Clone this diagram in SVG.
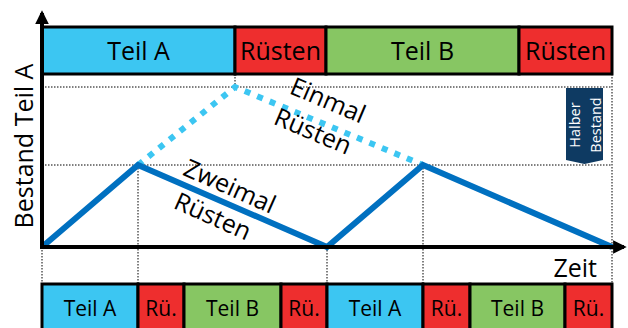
<svg xmlns="http://www.w3.org/2000/svg" width="628" height="328" viewBox="0 0 628 328">
  <style>
    .lbl { font-family: "Open Sans", "Liberation Sans", sans-serif; fill: #000; }
    .bar { font-size: 25px; text-anchor: middle; }
    .sub { font-size: 21px; text-anchor: middle; }
    .cy { fill: #3CC6F2; }
    .rd { fill: #EE2E2E; }
    .gn { fill: #87C663; }
    .box { stroke: #000; stroke-width: 3; }
    .dot { fill: none; stroke: #000; stroke-width: 1; stroke-dasharray: 1.5 1.5; }
    .axis { fill: none; stroke: #000; stroke-width: 4; }
  </style>
  <defs>
    <marker id="ah" viewBox="0 0 10 10" refX="8" refY="5" markerWidth="3.4" markerHeight="3.4" orient="auto" markerUnits="strokeWidth">
      <path d="M0,0 L10,5 L0,10 Z" fill="#000"/>
    </marker>
  </defs>
  <rect width="628" height="328" fill="#fff"/>

  <!-- dotted guide lines -->
  <g id="guides">
    <line class="dot" x1="42" y1="87" x2="612" y2="87"/>
    <line class="dot" x1="42" y1="165" x2="612" y2="165"/>
    <line class="dot" x1="612" y1="74" x2="612" y2="284"/>
    <line class="dot" x1="235" y1="74" x2="235" y2="87"/>
    <line class="dot" x1="42" y1="247" x2="42" y2="284"/>
    <line class="dot" x1="138" y1="165" x2="138" y2="284"/>
    <line class="dot" x1="327" y1="247" x2="327" y2="284"/>
    <line class="dot" x1="423" y1="165" x2="423" y2="284"/>
  </g>

  <!-- top schedule: one setup -->
  <g id="top-bar">
    <rect class="cy box" x="42" y="27" width="193" height="47"/>
    <rect class="rd box" x="235" y="27" width="91" height="47"/>
    <rect class="gn box" x="326" y="27" width="193" height="47"/>
    <rect class="rd box" x="519" y="27" width="93" height="47"/>
    <text class="lbl bar" x="138.5" y="60">Teil A</text>
    <text class="lbl bar" x="280.5" y="60">Rüsten</text>
    <text class="lbl bar" x="422.5" y="60">Teil B</text>
    <text class="lbl bar" x="565.5" y="60">Rüsten</text>
  </g>

  <!-- bottom schedule: two setups -->
  <g id="bottom-bar">
    <rect class="cy box" x="42" y="284" width="96" height="48"/>
    <rect class="rd box" x="138" y="284" width="46" height="48"/>
    <rect class="gn box" x="184" y="284" width="97" height="48"/>
    <rect class="rd box" x="281" y="284" width="46" height="48"/>
    <rect class="cy box" x="327" y="284" width="96" height="48"/>
    <rect class="rd box" x="423" y="284" width="47" height="48"/>
    <rect class="gn box" x="470" y="284" width="95" height="48"/>
    <rect class="rd box" x="565" y="284" width="47" height="48"/>
    <text class="lbl sub" x="90" y="316">Teil A</text>
    <text class="lbl sub" x="161" y="316">Rü.</text>
    <text class="lbl sub" x="232.5" y="316">Teil B</text>
    <text class="lbl sub" x="304" y="316">Rü.</text>
    <text class="lbl sub" x="375" y="316">Teil A</text>
    <text class="lbl sub" x="446.5" y="316">Rü.</text>
    <text class="lbl sub" x="517.5" y="316">Teil B</text>
    <text class="lbl sub" x="588.5" y="316">Rü.</text>
  </g>

  <!-- stock curves -->
  <g id="connectors">
    <polyline points="138,165 235,87 423,165" fill="none" stroke="#3CC6F2" stroke-width="6" stroke-dasharray="6 7.5"/>
    <polyline points="42,247 138,165 327,247 423,165 612,247" fill="none" stroke="#0070C0" stroke-width="6" stroke-linejoin="miter"/>
  </g>

  <!-- axes -->
  <g id="axes">
    <line class="axis" x1="42" y1="249" x2="42" y2="13" marker-end="url(#ah)"/>
    <line class="axis" x1="40" y1="247" x2="624" y2="247" marker-end="url(#ah)"/>
    <text class="lbl" font-size="25" transform="translate(33,146) rotate(-90)" text-anchor="middle">Bestand Teil A</text>
    <text class="lbl" font-size="25" x="597" y="277" text-anchor="end">Zeit</text>
  </g>

  <!-- curve labels -->
  <g id="label-einmal">
    <text class="lbl" font-size="25" text-anchor="middle" transform="translate(328,100) rotate(23)" y="9">Einmal</text>
    <text class="lbl" font-size="25" text-anchor="middle" transform="translate(313,131) rotate(23)" y="9">Rüsten</text>
  </g>
  <g id="label-zweimal">
    <text class="lbl" font-size="25" text-anchor="middle" transform="translate(230,186) rotate(24)" y="9">Zweimal</text>
    <text class="lbl" font-size="25" text-anchor="middle" transform="translate(213,216) rotate(24)" y="9">Rüsten</text>
  </g>

  <!-- half-stock marker -->
  <g id="halber-bestand">
    <path d="M566,88 H603 V160 L584.5,164 L566,160 Z" fill="#0E3A62"/>
    <text font-family="Open Sans, Liberation Sans, sans-serif" font-size="14.5" fill="#fff" text-anchor="middle" transform="translate(580,125) rotate(-90)">Halber</text>
    <text font-family="Open Sans, Liberation Sans, sans-serif" font-size="14.5" fill="#fff" text-anchor="middle" transform="translate(601,125) rotate(-90)">Bestand</text>
  </g>
</svg>
